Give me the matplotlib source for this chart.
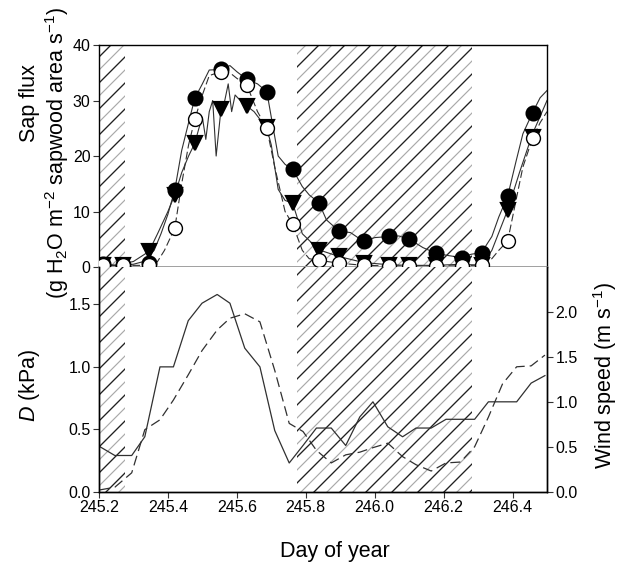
import matplotlib
matplotlib.use("Agg")
import matplotlib.pyplot as plt

# The figure is rendered at dpi 156 so that matplotlib's hatch unit (1 inch)
# gives the reference's hatch spacing; all point sizes are scaled by K so that
# their pixel sizes match a 100-dpi layout.
DPI = 156
K = 100.0 / DPI

plt.rcParams['font.family'] = ['Liberation Sans', 'DejaVu Sans']
plt.rcParams['hatch.linewidth'] = 0.85 * K
plt.rcParams['mathtext.fontset'] = 'custom'
plt.rcParams['mathtext.rm'] = 'Liberation Sans'
plt.rcParams['mathtext.it'] = 'Liberation Sans:italic'

# ---------------- data ----------------
# night (shaded) periods, day of year
night_periods = [(245.2, 245.275), (245.774, 246.281)]

# marker samples
mk_day = [245.212, 245.270, 245.345, 245.420, 245.478, 245.554, 245.629, 245.687,
          245.762, 245.838, 245.896, 245.968, 246.043, 246.101, 246.177, 246.252,
          246.310, 246.386, 246.458]
mk_filled = [0.5, 0.3, 0.8, 13.9, 30.4, 35.6, 33.8, 31.6, 17.6, 11.6, 6.5, 4.6,
             5.5, 5.0, 2.5, 1.7, 2.6, 12.8, 27.8]
mk_open = [0.4, 0.3, 0.3, 7.0, 26.6, 35.2, 32.8, 25.0, 7.7, 1.2, 0.7, 0.3,
           0.2, 0.2, 0.2, 0.2, 0.4, 4.7, 23.2]
mk_tri = [0.3, 0.3, 2.8, 13.0, 22.3, 28.4, 29.0, 25.2, 11.5, 3.1, 1.9, 0.8,
          0.4, 0.3, 0.3, 0.5, 0.3, 10.3, 23.4]

# continuous sap-flux records
day_f = [245.20, 245.25, 245.30, 245.33, 245.36, 245.38, 245.40, 245.42, 245.44, 245.46,
         245.478, 245.50, 245.52, 245.554, 245.58, 245.60, 245.629, 245.66, 245.687, 245.70,
         245.72, 245.74, 245.762, 245.79, 245.81, 245.838, 245.86, 245.896, 245.93, 245.968,
         246.00, 246.043, 246.07, 246.101, 246.14, 246.177, 246.21, 246.252, 246.28, 246.31,
         246.34, 246.36, 246.386, 246.41, 246.43, 246.458, 246.48, 246.50]
sap_f = [0.5, 0.3, 0.5, 1.0, 3.0, 6.0, 9.5, 13.9, 21, 26,
         30.4, 33, 35.5, 35.6, 36.3, 35.2, 33.8, 33.0, 31.6, 27,
         20, 18.5, 17.6, 14.5, 13, 11.6, 8.5, 6.5, 6.2, 4.6,
         5.3, 5.5, 5.6, 5.0, 3.5, 2.5, 2.1, 1.7, 2.3, 2.6,
         5.5, 9, 12.8, 19, 24, 27.8, 30.5, 31.8]

day_o = [245.20, 245.25, 245.30, 245.345, 245.37, 245.39, 245.42, 245.44, 245.46, 245.478,
         245.50, 245.52, 245.554, 245.58, 245.60, 245.629, 245.66, 245.687, 245.71, 245.74,
         245.762, 245.79, 245.81, 245.838, 245.896, 245.968, 246.043, 246.101, 246.177, 246.252,
         246.31, 246.34, 246.36, 246.386, 246.41, 246.43, 246.458, 246.48, 246.50]
sap_o = [0.4, 0.3, 0.3, 0.3, 1.0, 3.0, 7.0, 15, 22, 26.6,
         31, 34.5, 35.2, 35, 34, 32.8, 28, 25, 18, 10,
         7.7, 3, 1.5, 1.2, 0.7, 0.3, 0.2, 0.2, 0.2, 0.2,
         0.4, 1.5, 3, 4.7, 12, 18, 23.2, 26, 28]

day_t = [245.20, 245.25, 245.30, 245.345, 245.37, 245.40, 245.42, 245.44, 245.46, 245.478,
         245.49, 245.50, 245.51, 245.52, 245.53, 245.54, 245.554, 245.565, 245.575, 245.585,
         245.595, 245.61, 245.629, 245.65, 245.687, 245.70, 245.72, 245.74, 245.762, 245.79,
         245.838, 245.896, 245.968, 246.043, 246.101, 246.177, 246.252, 246.31, 246.34, 246.386,
         246.42, 246.458, 246.50]
sap_t = [0.3, 0.3, 1.0, 2.8, 6, 10, 13, 17, 20, 22.3,
         25, 27, 23, 28, 30, 20, 28.4, 30, 33, 28,
         31, 30, 29, 28, 25, 22, 14, 12, 11.5, 6,
         3.1, 1.9, 0.8, 0.4, 0.3, 0.3, 0.5, 0.3, 3, 10.3,
         17, 24, 30]

# hourly meteorology
met_day = [245.203, 245.246, 245.295, 245.333, 245.377, 245.416, 245.459, 245.499,
           245.543, 245.580, 245.623, 245.667, 245.710, 245.752, 245.792, 245.831,
           245.874, 245.916, 245.957, 245.995, 246.038, 246.081, 246.120, 246.164,
           246.207, 246.249, 246.290, 246.330, 246.371, 246.412, 246.454, 246.494]
vpd = [0.36, 0.29, 0.29, 0.44, 1.0, 1.0, 1.37, 1.51, 1.58, 1.51, 1.15, 1.0, 0.49, 0.23,
       0.37, 0.51, 0.51, 0.37, 0.6, 0.72, 0.52, 0.44, 0.51, 0.51, 0.58, 0.58, 0.58,
       0.72, 0.72, 0.72, 0.87, 0.93]
wind = [0.02, 0.05, 0.21, 0.69, 0.8, 1.02, 1.30, 1.57, 1.80, 1.93, 1.98, 1.89, 1.35, 0.76,
        0.67, 0.46, 0.32, 0.41, 0.44, 0.49, 0.54, 0.39, 0.30, 0.23, 0.32, 0.33, 0.5,
        0.83, 1.2, 1.39, 1.40, 1.52]

x_ticks = [245.2, 245.4, 245.6, 245.8, 246.0, 246.2, 246.4]
sap_ticks = [0, 10, 20, 30, 40]
vpd_ticks = [0.0, 0.5, 1.0, 1.5]
wind_ticks = [0.0, 0.5, 1.0, 1.5, 2.0]

# ---------------- figure ----------------
fig = plt.figure(figsize=(626 / DPI, 573 / DPI), dpi=DPI)
L, W = 0.1581, 0.7157
ax1 = fig.add_axes([L, 0.534, W, 0.3874])
ax2 = fig.add_axes([L, 0.1419, W, 0.3921])
ax3 = ax2.twinx()

for ax in (ax1, ax2):
    ax.set_xlim(245.2, 246.5)
    for a, b in night_periods:
        ax.axvspan(a, b, facecolor='none', edgecolor='#aaaaaa', hatch='////', lw=0, zorder=0)
        ax.axvspan(a, b, facecolor='none', edgecolor='#1e1e1e', hatch='//', lw=0, zorder=0.1)

lc = '#303030'
# top panel
ax1.plot(day_t, sap_t, color=lc, lw=0.8 * K, zorder=2)
ax1.plot(day_f, sap_f, color=lc, lw=0.8 * K, zorder=2)
ax1.plot(day_o, sap_o, color=lc, lw=0.8 * K, dashes=(7, 3), zorder=2)
ax1.plot(mk_day, mk_tri, 'v', ms=10 * K, color='black', zorder=3)
ax1.plot(mk_day, mk_filled, 'o', ms=10 * K, color='black', zorder=4)
ax1.plot(mk_day, mk_open, 'o', ms=10 * K, mfc='white', mec='black', mew=1.0 * K, zorder=5)
ax1.set_ylim(0, 40)
ax1.set_yticks(sap_ticks)
ax1.set_xticks([])
ax1.spines['bottom'].set_color('#999999')
ax1.spines['bottom'].set_linewidth(1.3 * K)

# bottom panel
ax2.plot(met_day, vpd, color=lc, lw=0.9 * K, zorder=2)
ax3.plot(met_day, wind, color=lc, lw=0.9 * K, dashes=(8, 4), zorder=2)
ax2.set_ylim(0, 1.8)
ax3.set_ylim(0, 2.5)
ax2.set_yticks(vpd_ticks)
ax2.set_yticklabels(['%.1f' % v for v in vpd_ticks])
ax3.set_yticks(wind_ticks)
ax3.set_yticklabels(['%.1f' % v for v in wind_ticks])
ax2.set_xticks(x_ticks)
ax2.set_xticklabels(['%.1f' % v for v in x_ticks])
ax2.spines['top'].set_visible(False)
ax3.spines['top'].set_visible(False)

for ax in (ax1, ax2, ax3):
    ax.tick_params(direction='out', length=4 * K, width=0.8 * K, labelsize=11.5 * K,
                   pad=2 * K, color='#333333')
    for s in ('left', 'right', 'top', 'bottom'):
        if ax is ax1 and s == 'bottom':
            continue
        ax.spines[s].set_linewidth(1.0 * K)

# labels
fs = 15.5 * K
fig.text(29 / 626, 1 - 103 / 573, 'Sap flux', rotation=90, ha='center', va='center', fontsize=fs)
fig.text(57 / 626, 1 - 153 / 573, '(g H$_2$O m$^{-2}$ sapwood area s$^{-1}$)', rotation=90,
         ha='center', va='center', fontsize=fs)
fig.text(29 / 626, 1 - 385 / 573, '$D$ (kPa)', rotation=90, ha='center', va='center', fontsize=fs)
fig.text(605 / 626, 1 - 375 / 573, 'Wind speed (m s$^{-1}$)', rotation=90, ha='center',
         va='center', fontsize=fs)
fig.text(335 / 626, 1 - 552 / 573, 'Day of year', ha='center', va='center', fontsize=fs)

fig.savefig('out.png', dpi=DPI)
